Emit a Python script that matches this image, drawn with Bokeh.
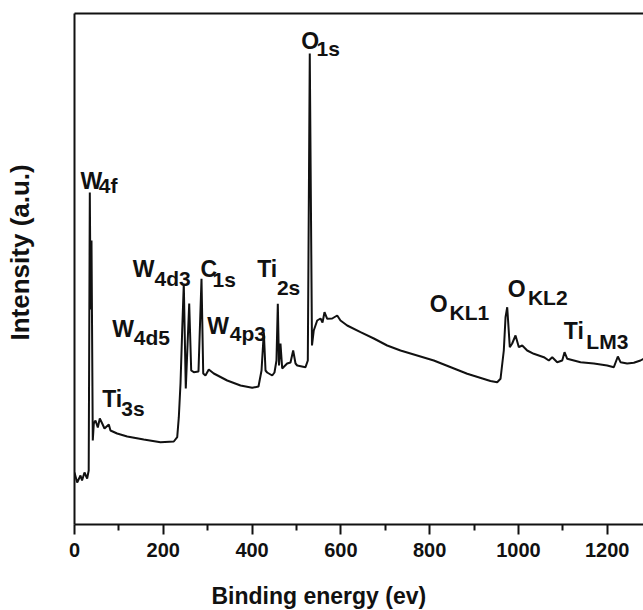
from bokeh.plotting import figure
from bokeh.models import ColumnDataSource, Range1d, LinearAxis, FixedTicker, Title
from bokeh.core.properties import value
from bokeh.embed import file_html
from bokeh.resources import INLINE

# XPS survey spectrum, intensity in arbitrary units
energy_ev = [0, 6, 13.5, 17, 22.5, 28.5, 32, 34.5, 36.3, 38.3, 41.2, 43.5, 47.3, 52.5, 57,
             62.4, 67.6, 77.3, 81, 96, 118.7, 156, 193.7, 223.7, 231.4, 235, 238.8, 242.6,
             246.2, 250.7, 258.4, 262.9, 268.8, 279.3, 286.1, 290, 295, 302.5, 313.8, 344,
             374, 400.3, 414.5, 421.3, 426.5, 430.3, 434, 445.4, 450.5, 455, 458, 460.7, 464,
             467.9, 479, 486.6, 492.6, 497.9, 501.7, 520.4, 525.6, 530, 535, 539, 546.7,
             554.2, 558.7, 563.2, 569.3, 580.5, 591.8, 599.2, 614.3, 644.3, 674.3, 704.4,
             734.4, 809.4, 884.7, 937, 952.2, 959.7, 967.1, 971, 974.8, 980.6, 986, 993.5,
             1001, 1008.6, 1019.8, 1034.7, 1057.3, 1068.5, 1076.2, 1087.4, 1098.7, 1103.9,
             1110, 1140, 1170, 1200, 1215, 1224, 1230, 1245, 1260, 1275, 1281.8]
intensity = [52, 42, 49, 44, 52, 46, 54, 332, 215, 284, 84, 101, 104, 97, 106,
             101, 96, 100, 94, 91, 88, 85, 82.3, 83, 87.3, 107.3, 141, 194,
             240.7, 136, 221, 154, 152.3, 153, 245.7, 151, 149, 155, 151, 144,
             139, 136.7, 138, 154, 192.3, 154, 152, 149, 152, 164, 220.7, 159, 181,
             156, 161, 162, 174, 161, 159, 157.3, 164, 471, 179, 194, 204,
             206, 202, 212.3, 205.7, 206, 209, 204, 199, 192.3, 186, 179,
             174, 164, 150.7, 143.5, 142.3, 145.7, 174, 207.3, 217.3, 177.3, 181, 189,
             177.3, 179, 174, 170.7, 167.3, 164, 167.3, 162.3, 164, 172.3,
             165.7, 162.3, 161, 159, 157.3, 168, 162.3, 161, 161.7, 164, 165.7]

x_ticks = [0, 200, 400, 600, 800, 1000, 1200]
x_minor_ticks = [100, 300, 500, 700, 900, 1100]

# peak annotations: element symbol + subscript
label_main = ["W", "O", "W", "C", "Ti", "W", "W", "Ti", "O", "O", "Ti"]
label_sub = ["4f", "1s", "4d3", "1s", "2s", "4d5", "4p3", "3s", "KL1", "KL2", "LM3"]
main_x = [13.5, 510.7, 131.3, 283.8, 411.6, 84.9, 298.9, 62.4, 800.4, 976.1, 1102.3]
main_y = [344, 484, 255.7, 256, 256, 195.7, 198.3, 125.7, 220.7, 235.7, 194]
sub_x = [54.7, 545.2, 180.2, 310.9, 456, 133.6, 350, 105.2, 845, 1021.5, 1153]
sub_y = [339, 475.7, 246.3, 245, 237.3, 187.3, 190.7, 116.3, 212.3, 226.7, 183.3]

FONT = "Liberation Sans"
INK = "#111111"

p = figure(width=643, height=610, output_backend="svg", toolbar_location=None,
           x_range=Range1d(0, 1281.8), y_range=Range1d(0, 511),
           min_border_left=74, min_border_right=0, min_border_top=13, min_border_bottom=86)
p.outline_line_color = None
p.grid.visible = False
p.background_fill_color = "white"
p.border_fill_color = "white"

p.line(energy_ev, intensity, line_color=INK, line_width=2)

src_main = ColumnDataSource(dict(x=main_x, y=main_y, t=label_main))
src_sub = ColumnDataSource(dict(x=sub_x, y=sub_y, t=label_sub))
p.text(x="x", y="y", text="t", source=src_main, text_font=value(FONT),
       text_font_style="bold", text_font_size="23px", text_color=INK,
       text_align="left", text_baseline="alphabetic")
p.text(x="x", y="y", text="t", source=src_sub, text_font=value(FONT),
       text_font_style="bold", text_font_size="21px", text_color=INK,
       text_align="left", text_baseline="alphabetic")

# bottom axis
xa = p.xaxis[0]
xa.ticker = FixedTicker(ticks=x_ticks, minor_ticks=x_minor_ticks)
xa.axis_line_width = 2
xa.axis_line_color = INK
xa.major_tick_line_width = 2
xa.minor_tick_line_width = 2
xa.major_tick_line_color = INK
xa.minor_tick_line_color = INK
xa.major_tick_in = 0
xa.major_tick_out = 10
xa.minor_tick_in = 0
xa.minor_tick_out = 6
xa.major_label_standoff = 8
xa.major_label_text_font = FONT
xa.major_label_text_font_style = "bold"
xa.major_label_text_font_size = "20px"
xa.major_label_text_color = INK

# left axis: line only
ya = p.yaxis[0]
ya.ticker = FixedTicker(ticks=[])
ya.axis_line_width = 2
ya.axis_line_color = INK
ya.major_tick_line_color = None
ya.minor_tick_line_color = None
ya.major_label_standoff = 0

# top frame line
top = LinearAxis(ticker=FixedTicker(ticks=[]), axis_line_width=2, axis_line_color=INK,
                 major_label_standoff=0, major_tick_out=0, major_tick_in=0,
                 major_tick_line_color=None, minor_tick_line_color=None)
p.add_layout(top, "above")

# axis titles (blank lines only pad the title boxes so the text sits further out)
p.add_layout(Title(text="\nBinding energy (ev)", align="left", offset=137, standoff=-9,
                   vertical_align="bottom",
                   text_font=FONT, text_font_style="bold", text_font_size="23px",
                   text_color=INK), "below")
p.add_layout(Title(text="Intensity (a.u.)\n\n", align="left", offset=184, standoff=-41,
                   vertical_align="bottom",
                   text_font=FONT, text_font_style="bold", text_font_size="26px",
                   text_color=INK), "left")

open("out.html", "w").write(file_html(p, INLINE))
